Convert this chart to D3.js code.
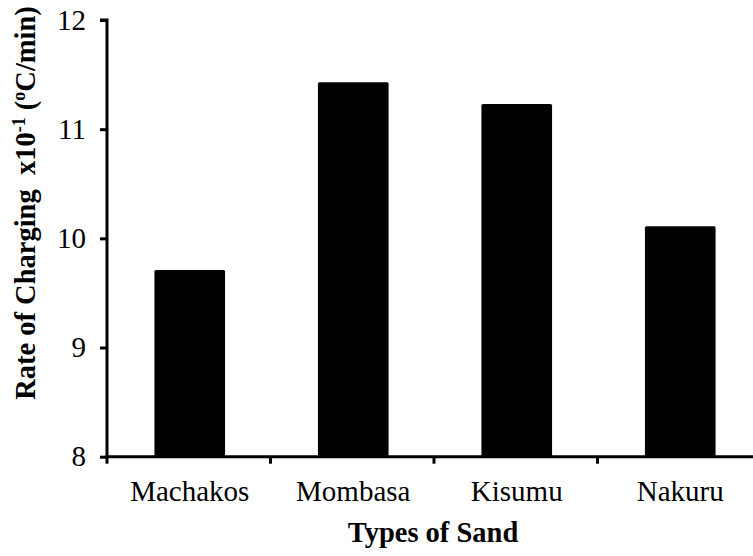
<!DOCTYPE html>
<html>
<head>
<meta charset="utf-8">
<script src="https://cdn.jsdelivr.net/npm/d3@7"></script>
<style>
  html, body { margin: 0; padding: 0; background: #fff; }
  svg { display: block; }
  text { font-family: "Liberation Serif", "Times New Roman", serif; fill: #000; }
</style>
</head>
<body>
<svg id="chart" width="753" height="556"></svg>
<script>
const categories = ["Machakos", "Mombasa", "Kisumu", "Nakuru"];
const values = [9.71, 11.43, 11.23, 10.11];
const yTicks = [8, 9, 10, 11, 12];

(function () {
const FONT = '"Liberation Serif", "Times New Roman", serif';
const svg = d3.select("#chart");
const mLeft = 107, mTop = 20, mBottom = 456.7;
const step = 163.5;
const mRight = mLeft + step * categories.length; // axis runs past the right edge

const x = d3.scaleBand().domain(categories).range([mLeft, mRight]).padding(0);
const y = d3.scaleLinear().domain([8, 12]).range([mBottom, mTop]);

const barFrac = 0.432;
const bw = x.bandwidth() * barFrac;

svg.append("g").selectAll("rect").data(categories).join("rect")
  .attr("x", (d) => x(d) + (x.bandwidth() - bw) / 2 + 1)
  .attr("y", (d, i) => y(values[i]))
  .attr("width", bw)
  .attr("height", (d, i) => y(8) - y(values[i]))
  .attr("rx", 1.5)
  .attr("fill", "#000");

// Y axis
const yAxis = svg.append("g").attr("transform", `translate(${mLeft},0)`)
  .call(d3.axisLeft(y).tickValues(yTicks).tickSize(7).tickPadding(14).tickFormat(d3.format("d")));
yAxis.attr("font-family", FONT).attr("font-size", 29);
yAxis.select(".domain").attr("stroke", "#000").attr("stroke-width", 3)
  .attr("d", `M-7,${mTop}H0V${mBottom}`);
yAxis.selectAll(".tick line").attr("stroke", "#000").attr("stroke-width", 3);
yAxis.selectAll(".tick text").attr("font-size", 29)
  .attr("font-family", FONT).attr("fill", "#000");

// X axis: ticks between categories
const xAxis = svg.append("g").attr("transform", `translate(0,${mBottom})`);
xAxis.append("line").attr("x1", mLeft - 1.5).attr("x2", mRight).attr("y1", 0).attr("y2", 0)
  .attr("stroke", "#000").attr("stroke-width", 3);
const bounds = categories.map((c) => x(c)).concat([mRight]);
xAxis.selectAll("line.tk").data(bounds).join("line").attr("class", "tk")
  .attr("x1", (d) => d).attr("x2", (d) => d).attr("y1", 0).attr("y2", 7)
  .attr("stroke", "#000").attr("stroke-width", 3);
xAxis.selectAll("text").data(categories).join("text")
  .attr("x", (d) => x(d) + x.bandwidth() / 2 + 1)
  .attr("y", 44)
  .attr("text-anchor", "middle")
  .attr("font-family", FONT)
  .attr("font-size", 29)
  .text((d) => d);

// X title
svg.append("text")
  .attr("x", 433).attr("y", 542)
  .attr("text-anchor", "middle")
  .attr("font-family", FONT)
  .attr("font-size", 28.5).attr("font-weight", "bold")
  .text("Types of Sand");

// Y title
const yt = svg.append("text")
  .attr("transform", "translate(35,203) rotate(-90)")
  .attr("text-anchor", "middle")
  .attr("font-family", FONT)
  .attr("font-size", 28.5).attr("font-weight", "bold");
yt.append("tspan").text("Rate of Charging\u00A0 x10");
yt.append("tspan").attr("font-size", 18).attr("dy", -10).text("-1");
yt.append("tspan").attr("dy", 10).text(" (");
yt.append("tspan").attr("font-size", 18).attr("dy", -10).text("o");
yt.append("tspan").attr("dy", 10).text("C/min)");
})();
</script>
</body>
</html>
